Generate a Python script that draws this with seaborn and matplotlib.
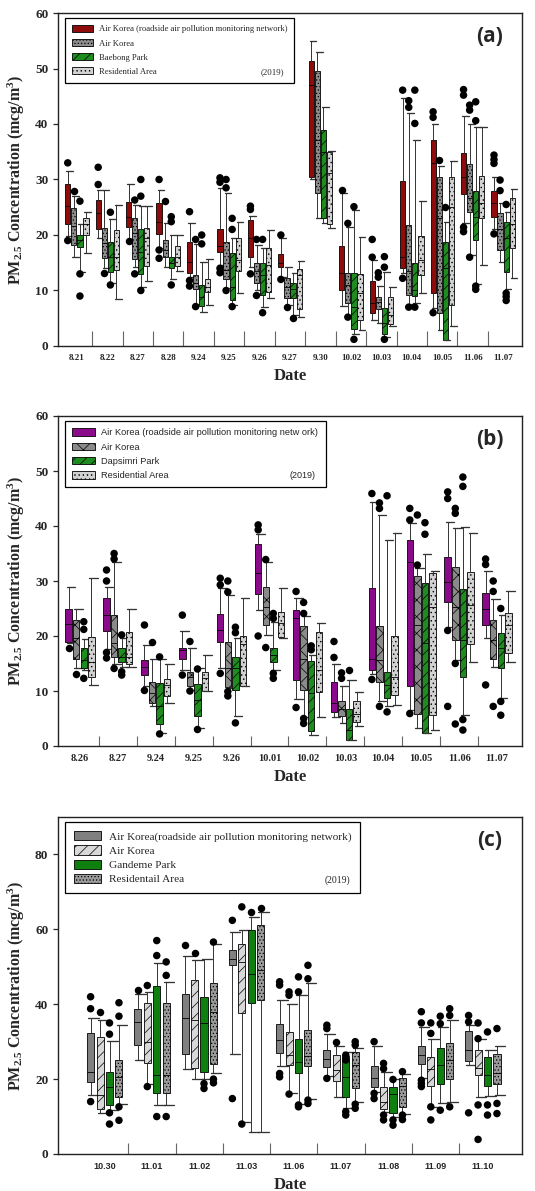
import numpy as np
import matplotlib
matplotlib.use("Agg")
import matplotlib.pyplot as plt
import matplotlib.patches as mpatches
import matplotlib.colors as mcolors
import seaborn as sns
import pandas as pd

# ---------------- panel (a) ----------------
dates_a = ['8.21', '8.22', '8.27', '8.28', '9.24', '9.25', '9.26', '9.27', '9.30',
           '10.02', '10.03', '10.04', '10.05', '11.06', '11.07']
sites_a = ['Air Korea (roadside air pollution monitoring network)', 'Air Korea',
           'Baebong Park', 'Residential Area']
# (lower whisker, q1, median, q3, upper whisker) per date
a_road = [(19.8, 22, 25.2, 29.1, 31.6), (19.4, 21.1, 23.9, 26.3, 28.1), (19.2, 21.4, 23.3, 26, 29.2),
          (17.6, 20.2, 22.4, 25.8, 28.1), (12.5, 13.1, 15.2, 18.8, 22.1), (14.6, 17, 18, 21, 28.5),
          (14.2, 16, 19.4, 22.7, 23.5), (12.5, 14.2, 15, 16.5, 19.5), (30, 30.5, 47, 51.4, 55),
          (7.2, 10.1, 13.1, 18, 27.5), (4.7, 6, 7.7, 11.8, 15.5), (13.1, 14, 16.1, 29.8, 44.6),
          (6.8, 9.5, 32.9, 37.1, 40), (22.1, 27.4, 30.5, 34.7, 41.4), (21, 23.3, 25.7, 28, 30.5)]
a_road_out = [[33, 19], [32.2, 29.1], [19], [30, 17.3, 15.8], [24.2, 11.8, 10.8], [30.3, 29.5, 14, 13.2],
              [25.2, 24.6, 13], [20, 12], [], [28.1], [19.2, 16], [46.1, 12.2], [42.2, 41.2, 6],
              [46.2, 45.2, 21.4, 20.6], [34.4, 33.6, 32.9, 20.2]]
a_ak = [(16, 18.2, 21.6, 24.8, 27), (14, 15.8, 18.5, 21.2, 28.1), (14.3, 15.6, 20.3, 23, 25.4),
        (14.2, 16, 17.3, 19.1, 22.1), (7.6, 10.2, 11.3, 12.8, 18.4), (10.4, 12, 13.7, 18.8, 27.5),
        (10.1, 11.3, 13.6, 15, 18.2), (7.4, 8.6, 10.6, 12.2, 14.2), (23, 27.5, 37.1, 49.5, 53),
        (5.6, 7.8, 11, 13.2, 21.5), (4.2, 6.6, 8, 8.8, 10.8), (7.6, 9.2, 13.5, 21.8, 42),
        (2.9, 5.9, 23, 30.5, 32.5), (16.4, 24.2, 26.6, 32.8, 40), (15.2, 17.3, 21, 24, 25.7)]
a_ak_out = [[28], [13.1], [26.3, 13], [26.1], [19.2, 7.1], [30, 28.5, 10], [19.2, 9.1], [7], [],
            [22.1, 5.2], [13.2, 12.4], [44.2, 43, 7], [33.5], [43.4, 42.5, 16], [29.9, 28]]
a_park = [(13.4, 17.9, 19.1, 20, 22), (11.3, 13.3, 16.1, 18.8, 22.8), (10.7, 13, 17, 21, 25.2),
          (12, 14, 14.9, 16, 20), (6.2, 7.2, 8.9, 11, 15.2), (7.4, 8.3, 10.7, 16.8, 19.4),
          (7.1, 9.2, 12.8, 15, 17.6), (5.5, 8.6, 10.2, 11.3, 13.1), (22.1, 23, 35, 39, 43.1),
          (2.2, 3, 7.1, 13.2, 24.5), (1.7, 2.2, 4.1, 6.8, 13.4), (7.7, 9, 10.1, 15, 37.1),
          (1, 1.1, 14, 18.8, 22.4), (11.2, 19.1, 23.3, 27.9, 39.4), (10.2, 13.4, 19.4, 22.4, 24.2)]
a_park_out = [[26.1, 13, 9], [24.1, 11], [30, 27, 10], [23.3, 22.4, 11], [20, 18.4], [23, 21, 7.1],
              [19.2, 6], [5], [], [25.1, 1.2], [16.1, 14.2, 1.2], [46.1, 40.1, 7], [25.1],
              [44, 40.6, 10.8, 10.2], [25.5, 9.5, 8.9, 8.2]]
a_res = [(16.7, 20, 22, 23.1, 24.1), (8.5, 13.7, 16.1, 20.9, 25.4), (11.8, 14.5, 19.4, 21.2, 25.2),
         (13.5, 14.4, 16.1, 18, 20), (7.4, 9.8, 10.6, 12, 15.6), (9.5, 13.6, 15.5, 19.4, 22.4),
         (8.6, 9.8, 14.6, 17.6, 20.9), (5.2, 6.6, 12.8, 13.8, 15.4), (21.3, 22, 31.2, 35, 35.1),
         (2.9, 4.7, 9.5, 13, 19.6), (3.6, 4, 5.6, 8.8, 10.6), (9.5, 12.8, 15.5, 19.8, 26.2),
         (3.6, 7.4, 25, 30.5, 33.4), (14.6, 23, 25.7, 30.7, 39.4), (12.2, 17.6, 21.9, 26.7, 28.3)]
a_res_out = [[] for _ in dates_a]

# ---------------- panel (b) ----------------
dates_b = ['8.26', '8.27', '9.24', '9.25', '9.26', '10.01', '10.02', '10.03', '10.04',
           '10.05', '11.06', '11.07']
sites_b = ['Air Korea (roadside air pollution monitoring netw ork)', 'Air Korea',
           'Dapsimri Park', 'Residential Area']
b_road = [(18.7, 19, 22.1, 25, 29), (17.6, 21, 23.8, 27, 29), (10.9, 12.9, 14.4, 15.6, 18.4),
          (13.8, 15.9, 17.5, 17.8, 21), (14.1, 19, 21.1, 24, 28.7), (24.7, 27.6, 31.5, 36.8, 38.5),
          (8.5, 12, 23.2, 24.8, 27), (5.3, 6.1, 7.8, 11.7, 15), (13.1, 13.9, 15.9, 28.7, 44.4),
          (6.5, 10.9, 33.5, 37.5, 40.5), (21.7, 26.1, 29.9, 34.4, 40.8), (19.6, 22, 25, 27.9, 31.9)]
b_road_out = [[17.9], [32, 30, 17, 16], [22, 10.1], [23.8, 12.9], [30.5, 29.3, 13.2], [40.2, 39.3, 20],
              [28.1, 7], [19, 16.1], [45.9, 12.1], [43.2, 41.1, 5.9], [46.2, 45, 21, 7.2], [34, 33, 11.1]]
b_ak = [(14.1, 15.9, 19.6, 23, 25), (14.9, 16.2, 18.7, 23.8, 33.5), (7.2, 7.9, 9.6, 11.7, 15.9),
        (10.2, 10.9, 12.6, 13.5, 17.9), (10.5, 10.8, 14.1, 19, 27.5), (20.2, 22, 25.3, 29, 33.5),
        (5.3, 10.2, 15.8, 21.8, 23.6), (4.1, 5.5, 6.7, 8.1, 10.9), (8.1, 11.7, 15.6, 21.8, 42),
        (3.2, 5.8, 22, 30.9, 32.3), (15.6, 19.2, 25.3, 32.5, 39.6), (14.4, 15.9, 19.3, 22.9, 26.8)]
b_ak_out = [[13.1], [35, 34, 14.1], [19], [19, 10], [30, 28, 9.9, 9.1], [33.9, 17.9],
            [26.1, 24.1, 5, 4.1], [13.3, 12.3], [44.2, 43.2, 7.2], [42, 32.9], [43.2, 42.3, 15, 4],
            [30, 28.1, 7.2]]
b_park = [(13.9, 14.1, 15.6, 17.8, 19.4), (14.4, 15.2, 16.2, 17.9, 19.6), (2.4, 4, 7.2, 11.4, 15.8),
          (3.2, 5.5, 8.4, 11.3, 14.1), (5.5, 10.1, 14.1, 16.2, 19.6), (13.9, 15.2, 16.5, 17.9, 22.6),
          (2, 2.8, 9.6, 15.5, 16.5), (1.1, 1.1, 2.9, 6.8, 12), (7.2, 8.7, 11.1, 13.5, 37.5),
          (2.3, 2.4, 18.7, 29.6, 35), (5.6, 12.5, 19.3, 28.5, 39.9), (8.7, 14.1, 17.8, 20.5, 23.8)]
b_park_out = [[22.6, 21.2, 12.3], [20.2, 13.5, 12.9], [16.2, 2.2], [14, 3], [21.6, 20.6, 4.2],
              [24.1, 23.2, 13.2, 12.3], [18.2, 17.5], [13.9], [45.5, 6.2], [40.6, 38.5],
              [48.9, 47.2, 4.8, 2.9], [25, 8.1, 5.6]]
b_res = [(11.1, 12.5, 15.3, 19.8, 30.5), (14.4, 15, 16.2, 20.8, 25), (7.9, 9.1, 11.1, 12.1, 14.9),
         (10, 10, 12.3, 13.5, 16.5), (10.9, 10.9, 18.5, 20, 27), (19.6, 19.9, 22.4, 24.4, 28.7),
         (5.3, 9.9, 13.8, 20.8, 22.4), (3.6, 4.4, 5.9, 8.1, 9.9), (7.5, 9.3, 12.5, 20, 38.7),
         (2.9, 5.6, 25.3, 31.5, 31.8), (15.3, 18.5, 25.6, 31.7, 38.8), (15.2, 17, 22, 24.2, 28.1)]
b_res_out = [[] for _ in dates_b]

# ---------------- panel (c) ----------------
dates_c = ['10.30', '11.01', '11.02', '11.03', '11.06', '11.07', '11.08', '11.09', '11.10']
sites_c = ['Air Korea(roadside air pollution monitoring network)', 'Air Korea',
           'Gandeme Park', 'Residentail Area']
c_road = [(15.7, 19.3, 22, 32.4, 36.4), (25, 29.1, 35.3, 38.8, 42.8), (22.8, 26.7, 36.4, 42.8, 53),
          (26.8, 50.4, 52.2, 54.4, 59.3), (23.5, 27, 30.4, 34.7, 41.2), (20.8, 23.3, 25.5, 27.9, 32),
          (16.6, 18, 20.2, 23.5, 28.8), (20.2, 24, 26.4, 28.8, 34), (23.7, 24.9, 27.9, 32.9, 34.4)]
c_road_out = [[42, 38.8, 14], [43.9], [55.7], [62.4, 14.8], [46, 45.1, 21.5, 20.6], [34.4, 33.5, 20.2],
              [30, 16.2, 14.8], [38, 35, 19.7, 18.8, 18], [37, 35.3, 11]]
c_ak = [(11, 11.9, 15.7, 31.3, 35.7), (18.8, 24.2, 30, 40.4, 43.3), (20, 23.1, 35.9, 46.4, 51.7),
        (8.6, 37.7, 51.3, 56, 59.7), (16.4, 23.7, 26.4, 32.6, 40), (15.3, 19.6, 22.4, 26.4, 28.8),
        (11.3, 11.9, 14, 18, 22), (12.6, 18.1, 22.8, 26, 30.8), (15.3, 21.1, 23.1, 27.7, 30.6)]
c_ak_out = [[38], [45, 18], [53.7], [66, 8], [43.3, 42.4, 16], [30], [24.2, 22.8, 10.4, 9.1],
            [35, 32.2, 12.6, 9.1], [35, 30.8, 13.1, 3.9]]
c_park = [(11.7, 13.1, 18, 22, 30.2), (13.1, 16.2, 21, 44.8, 51), (19.9, 22, 35, 42, 52),
          (6, 40.2, 48.2, 59.9, 63.3), (13.3, 21.7, 24.6, 30.6, 42.4), (12.2, 15.3, 20.6, 26.1, 27.3),
          (10, 11, 16, 18, 19.9), (13.5, 18.8, 23.7, 28.4, 34), (15.5, 18.1, 21.1, 26, 27.7)]
c_park_out = [[35, 32, 11, 8], [57, 53, 10], [18.8, 17.5], [64.6], [47.3, 43.3, 13.1, 12.6],
              [26.4, 25.1, 11.3, 10.4], [19.9, 9.1, 7.7], [36.8, 34.8, 11.7], [32.6, 13.1, 10.4]]
c_res = [(13.3, 15.1, 20.6, 25.2, 34.4), (13.1, 16.2, 21, 40.4, 46), (21.5, 24, 37.9, 45.7, 56.2),
         (6, 41.1, 49.2, 61.1, 64.6), (14.6, 23.5, 26.1, 33.1, 45.7), (14, 17.5, 23.7, 27.3, 28.4),
         (10.8, 12.6, 18.1, 20.2, 21.3), (14, 19.9, 25.1, 29.7, 35.7), (15.7, 18.7, 21.7, 26.7, 28.8)]
c_res_out = [[40.4, 36.8, 12.6, 9], [51.3, 47.7, 10], [56.6, 20, 19], [65.8], [50.4, 46.8, 14.4, 13.5],
             [30, 29.1, 13.3, 12.2], [22, 10.4, 9.2], [38.8, 37, 12.6], [33.5, 13.5, 10.8]]

SERIF = ['Liberation Serif', 'DejaVu Serif']
SANS = ['Liberation Sans', 'DejaVu Sans']

sns.set_style("ticks")
plt.rcParams['font.family'] = SERIF
plt.rcParams['mathtext.fontset'] = 'custom'
plt.rcParams['mathtext.bf'] = 'Liberation Serif:bold'
plt.rcParams['mathtext.rm'] = 'Liberation Serif:bold'
plt.rcParams['mathtext.default'] = 'bf'
plt.rcParams['hatch.linewidth'] = 0.5

CAP_LW = 0.95


def to_long(dates, sites, series):
    rows = []
    for site, per_date in zip(sites, series):
        for date, vals in zip(dates, per_date):
            for v in vals:
                rows.append((date, site, v))
    return pd.DataFrame(rows, columns=['date', 'site', 'value'])


def draw_panel(ax, dates, sites, boxes, outs, colors, hatches, letter, ylim, yticks,
               xlim, tick_len, xfont, legfont, legsize, legspace, gap):
    df = to_long(dates, sites, boxes)
    df_out = to_long(dates, sites, outs)
    pal = dict(zip(sites, colors))
    sns.boxplot(data=df, x='date', y='value', hue='site', order=dates, hue_order=sites,
                palette=pal, saturation=1, whis=(0, 100), showfliers=False, width=0.8, gap=gap,
                linecolor='black', linewidth=0.6, legend=False, ax=ax,
                medianprops=dict(color='black', linewidth=0.6),
                whiskerprops=dict(color='#333333', linewidth=0.7),
                capprops=dict(color='#333333', linewidth=CAP_LW))
    # hatch each box according to its site colour
    rgb = [mcolors.to_rgb(c) for c in colors]
    for p in ax.patches:
        fc = p.get_facecolor()[:3]
        k = int(np.argmin([np.sum((np.array(fc) - np.array(c)) ** 2) for c in rgb]))
        p.set_hatch(hatches[k])
    # wider whisker caps, as in the original figure
    for ln in ax.lines:
        if abs(ln.get_linewidth() - CAP_LW) < 1e-6:
            xs = np.asarray(ln.get_xdata(), dtype=float)
            mid = xs.mean()
            ln.set_xdata([mid - 0.05, mid + 0.17])
    sns.stripplot(data=df_out, x='date', y='value', hue='site', order=dates, hue_order=sites,
                  palette={s: 'black' for s in sites}, dodge=True, jitter=False, size=5.4,
                  legend=False, ax=ax)

    ax.set_xlim(*xlim)
    ax.set_ylim(*ylim)
    ax.set_yticks(yticks)
    ax.set_yticklabels([str(t) for t in yticks], fontsize=9.5, fontweight='bold', family=SERIF)
    ax.set_xticks(range(len(dates)))
    ax.set_xticklabels(dates, fontsize=xfont[1], fontweight='bold', family=xfont[0])
    ax.set_xticks(np.arange(len(dates) - 1) + 0.5, minor=True)
    ax.tick_params(axis='x', which='major', length=0, pad=6)
    ax.tick_params(axis='x', which='minor', direction='in', length=tick_len, width=0.8, color='#666666')
    ax.tick_params(axis='y', which='major', direction='out', length=3.5, width=0.9)
    for sp in ax.spines.values():
        sp.set_linewidth(1.0)
        sp.set_color('#222222')
    ax.set_xlabel('Date', fontsize=12, fontweight='bold', family=SERIF, labelpad=4)
    ax.set_ylabel('PM$_{2.5}$ Concentration (mcg/m$^3$)', fontsize=11.5, fontweight='bold',
                  family=SERIF, labelpad=6)

    handles = [mpatches.Patch(facecolor=c, edgecolor='black', hatch=h, linewidth=0.6, label=s)
               for s, c, h in zip(sites, colors, hatches)]
    leg = ax.legend(handles=handles, loc='upper left', bbox_to_anchor=(0.015, 0.985),
                    prop=dict(family=legfont, size=legsize), frameon=True, fancybox=False,
                    edgecolor='black', framealpha=1, borderpad=0.8, labelspacing=legspace,
                    handlelength=2.4, handleheight=0.9, handletextpad=0.7, borderaxespad=0)
    leg.get_frame().set_linewidth(0.9)
    ax.text(0.93, 0.93, letter, transform=ax.transAxes, ha='center', va='center',
            fontsize=15, fontweight='bold', family=['Open Sans', 'DejaVu Sans'])
    return leg


fig = plt.figure(figsize=(5.35, 11.91), dpi=100)
W = 535.0
H = 1191.0
ax_a = fig.add_axes([58 / W, 1 - 346 / H, 464 / W, 333 / H])
ax_b = fig.add_axes([58 / W, 1 - 746 / H, 464 / W, 330 / H])
ax_c = fig.add_axes([58 / W, 1 - 1154 / H, 464 / W, 337 / H])

leg_a = draw_panel(ax_a, dates_a, sites_a, [a_road, a_ak, a_park, a_res],
                   [a_road_out, a_ak_out, a_park_out, a_res_out],
                   ['#8f0c0c', '#8c8c8c', '#1e8c1e', '#d2d2d2'], ['', '.....', '///', '....'],
                   '(a)', (0, 60), range(0, 61, 10), (-0.62, 14.62), 11, (SERIF, 6.5), SERIF, 6.2, 0.65, 0.15)
leg_b = draw_panel(ax_b, dates_b, sites_b, [b_road, b_ak, b_park, b_res],
                   [b_road_out, b_ak_out, b_park_out, b_res_out],
                   ['#8b0a8b', '#8a8a8a', '#1e8c1e', '#d2d2d2'], ['', 'xx', '///', '....'],
                   '(b)', (0, 60), range(0, 61, 10), (-0.58, 11.66), 7, (SERIF, 7.5), SANS, 6.7, 0.55, 0.15)
leg_c = draw_panel(ax_c, dates_c, sites_c, [c_road, c_ak, c_park, c_res],
                   [c_road_out, c_ak_out, c_park_out, c_res_out],
                   ['#808080', '#d8d8d8', '#0f7f0f', '#9a9a9a'], ['', '///', '', '.....'],
                   '(c)', (0, 90), range(0, 81, 20), (-0.99, 8.83), 8, (SANS, 6.5), SERIF, 8.1, 0.32, 0.25)

# "(2019)" sits at the right end of the last legend row
fig.canvas.draw()
for ax, leg, fam, fs in [(ax_a, leg_a, SERIF, 6.3), (ax_b, leg_b, SANS, 6.5), (ax_c, leg_c, SERIF, 7)]:
    fb = leg.get_frame().get_window_extent()
    tb = leg.get_texts()[-1].get_window_extent()
    x, y = ax.transAxes.inverted().transform((fb.x1 - 10, (tb.y0 + tb.y1) / 2))
    ax.text(x, y, '(2019)', transform=ax.transAxes, ha='right', va='center', family=fam,
            fontsize=fs, zorder=10)

fig.savefig('out.png', dpi=100)
